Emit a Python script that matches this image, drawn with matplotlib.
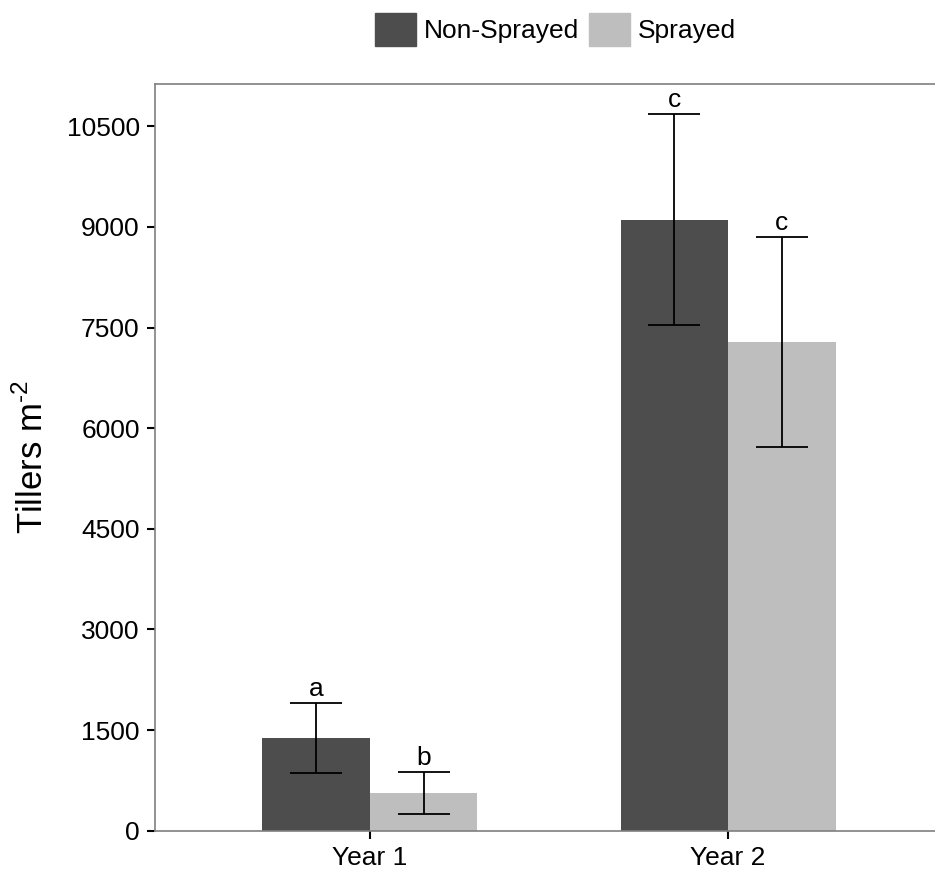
import numpy as np
import matplotlib.pyplot as plt
from matplotlib.patches import Patch

plt.rcParams['font.family'] = ['Liberation Sans', 'DejaVu Sans']
plt.rcParams['mathtext.fontset'] = 'custom'
plt.rcParams['mathtext.rm'] = 'Liberation Sans'

# données
years = ["Year 1", "Year 2"]
traitements = ["Non-Sprayed", "Sprayed"]
moyennes = {"Non-Sprayed": [1380, 9110], "Sprayed": [565, 7280]}
erreurs = {"Non-Sprayed": [525, 1570], "Sprayed": [315, 1565]}
lettres = {"Non-Sprayed": ["a", "c"], "Sprayed": ["b", "c"]}
couleurs = {"Non-Sprayed": "#4d4d4d", "Sprayed": "#bebebe"}
yticks = [0, 1500, 3000, 4500, 6000, 7500, 9000, 10500]

fig = plt.figure(figsize=(9.35, 8.76), dpi=100)
ax = fig.add_axes([155/935, 45.3/876, 788/935, 746.7/876])

x = np.arange(1, len(years) + 1)
largeur = 0.3
for i, t in enumerate(traitements):
    pos = x + (i - 0.5) * largeur
    ax.bar(pos, moyennes[t], width=largeur, color=couleurs[t], label=t, zorder=2)
    ax.errorbar(pos, moyennes[t], yerr=erreurs[t], fmt='none', ecolor='black',
                elinewidth=1.3, capsize=19, capthick=1.3, zorder=3)
    for p, m, e, l in zip(pos, moyennes[t], erreurs[t], lettres[t]):
        ax.text(p, m + e + 30, l, ha='center', va='bottom', fontsize=19)

ax.set_xlim(0.4, 2.6)
ax.set_ylim(0, 11130)
ax.set_xticks(x)
ax.set_xticklabels(years, fontsize=19)
ax.set_yticks(yticks)
ax.set_yticklabels([str(v) for v in yticks], fontsize=19)
ax.tick_params(length=6, width=1.5, color='black', labelcolor='black', pad=5)
for s in ax.spines.values():
    s.set_color('#7f7f7f')
    s.set_linewidth(1.2)
ax.set_ylabel(r"Tillers m$^{\text{-2}}$", fontsize=25, labelpad=12)

poignees = [Patch(color=couleurs[t]) for t in traitements]
fig.legend(poignees, traitements, loc='center', bbox_to_anchor=(0.594, 0.966),
           ncol=2, frameon=False, fontsize=19, handlelength=1.55, handleheight=1.55,
           handletextpad=0.3, columnspacing=0.4, borderpad=0)

plt.savefig("out.png", dpi=100)
